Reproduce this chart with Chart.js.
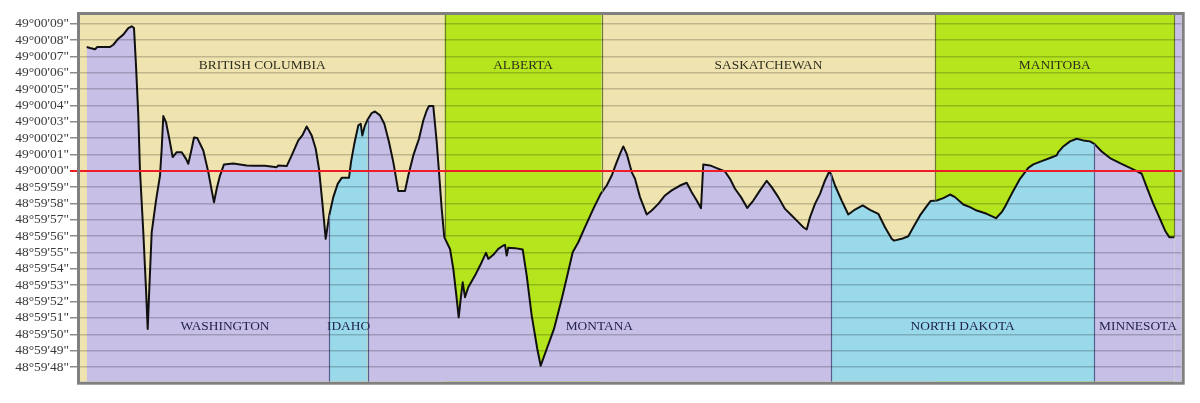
<!DOCTYPE html>
<html>
<head>
<meta charset="utf-8">
<script src="https://cdn.jsdelivr.net/npm/chart.js@4.4.1/dist/chart.umd.min.js"></script>
<style>
  html, body { margin: 0; padding: 0; background: #fff; }
  #wrap { width: 1200px; height: 403px; position: relative; }
</style>
</head>
<body>
<div id="wrap"><canvas id="chart"></canvas></div>
<script>
// distance along the 49th parallel boundary, west -> east (arbitrary units)
const distance = [
  6.7, 10, 15, 17.3, 30, 33.3, 38.3, 43.3, 48.3, 51.7, 54, 56, 58.3, 60, 63.3, 66, 67.7, 69.3, 71.7, 76,
  80, 81.7, 83.3, 86, 89.3, 92.7, 96.7, 101.7, 106, 108.3, 111.7, 114, 117.3, 123.3, 128.3, 131.7, 134, 136.7, 140, 144,
  153.3, 166.7, 173.3, 185,
  196.7, 198.3, 206.7, 211.7, 218.3, 222.3, 226.7, 231.7, 235.7, 239, 242.3, 245.7, 249.3, 253.3, 257.7, 261.7, 269, 271, 274.3, 278.3,
  280.7, 282.3, 285, 287.7, 291.7, 295, 300, 304.3, 309, 313.3, 318.3, 325, 328.3, 333.3, 339, 343.3, 346.7, 349, 353.3, 356.7,
  359, 361.7, 364.3, 370,
  373.3, 376, 378.7, 380.7, 382.7, 385, 388.3, 395, 401.7, 406, 408.3, 413.3, 418.3, 423.3, 425, 426.7, 428.3, 435, 442.7, 446.7,
  451.7, 457.3, 460.7, 466.7, 474, 481.7, 487.3, 492.7, 498.3, 505, 513.3, 520.7, 526.7, 531.7, 536.7, 540, 543.3, 546.7, 551.7, 555,
  560, 566.7, 571.7, 578.3, 585, 591.7, 600, 606.7, 611.7, 616.7, 621, 623.3, 630, 636.7, 645, 650, 655, 661, 667.3, 673.3,
  680, 686.7, 691.7, 698.3, 705, 711.7, 718.3, 723.3, 726.7, 730, 735, 740,
  745, 749.3, 751, 755, 761.7, 768.3, 775, 782.7, 790, 798.3, 805, 811.7, 814, 821.7, 828.3, 833.3, 840, 846, 850.7, 856.7,
  863.3, 870, 875, 883.3, 890, 896.7, 906.7, 916, 921.7, 925,
  931.7, 940, 948.3, 953.3, 961.7, 970, 976.7, 978.3, 983.3, 990, 996.7, 1003.3, 1010, 1014.3, 1021.7, 1030, 1040, 1050, 1056.7, 1061.7,
  1066.7, 1073.3, 1080, 1085, 1089.3, 1094.3
];
// latitude of the surveyed line, in seconds north (+) / south (-) of 49°00'00"
const latSeconds = [
  7.57, 7.51, 7.43, 7.57, 7.57, 7.71, 8.08, 8.33, 8.73, 8.84, 8.73, 6.45, 3.39, 0, -3.76, -7.22, -9.67, -7.22, -3.76, -1.82,
  -0.29, 1.35, 3.35, 2.98, 1.96, 0.84, 1.14, 1.14, 0.73, 0.43, 1.35, 2.04, 2.0, 1.24, -0.08, -1.2, -1.92, -1.1, -0.29, 0.39,
  0.45, 0.33, 0.31, 0.31,
  0.22, 0.33, 0.29, 0.94, 1.86, 2.16, 2.71, 2.16, 1.35, 0.12, -1.92, -4.16, -2.7, -1.61, -0.8, -0.43, -0.43, 0.53, 1.65, 2.78,
  2.88, 2.16, 2.78, 3.14, 3.53, 3.63, 3.39, 2.88, 1.76, 0.53, -1.24, -1.24, -0.29, 0.94, 1.96, 3.08, 3.69, 3.96, 3.96, 1.76,
  -0.08, -2.33, -4.06, -4.78,
  -6.0, -7.43, -8.96, -7.84, -6.82, -7.73, -7.12, -6.41, -5.59, -5.02, -5.39, -5.14, -4.78, -4.57, -4.53, -5.18, -4.71, -4.73, -4.82, -6.41,
  -8.86, -10.9, -11.92, -10.9, -9.67, -7.84, -6.41, -4.98, -4.37, -3.45, -2.33, -1.41, -0.9, -0.29, 0.53, 1.04, 1.49, 1.04, -0.08, -0.49,
  -1.61, -2.67, -2.43, -2.02, -1.51, -1.2, -0.9, -0.73, -1.31, -1.82, -2.29, 0.39, 0.33, 0.16, -0.04, -0.49, -1.1, -1.61, -2.27, -1.82,
  -1.2, -0.61, -1.0, -1.61, -2.33, -2.73, -3.14, -3.45, -3.59, -2.84, -2.02, -1.41,
  -0.59, -0.04, -0.2, -0.9, -1.82, -2.67, -2.37, -2.12, -2.39, -2.63, -3.45, -4.16, -4.27, -4.16, -4.0, -3.45, -2.73, -2.22, -1.84, -1.82,
  -1.67, -1.45, -1.61, -2.06, -2.22, -2.43, -2.63, -2.9, -2.53, -2.2,
  -1.41, -0.49, 0.18, 0.39, 0.59, 0.78, 0.94, 1.14, 1.49, 1.8, 1.96, 1.86, 1.8, 1.65, 1.18, 0.78, 0.47, 0.18, -0.02, -0.18,
  -1.0, -2.02, -2.94, -3.65, -4.06, -4.06
];

const provinceNames = ['BRITISH COLUMBIA', 'ALBERTA', 'SASKATCHEWAN', 'MANITOBA'];
const provinceEdges = [0, 364.5, 521.7, 855.3, 1094.3];
const stateNames = ['WASHINGTON', 'IDAHO', 'MONTANA', 'NORTH DAKOTA', 'MINNESOTA'];
const stateEdges = [6.7, 249.3, 287.7, 751, 1014.3, 1101.7];

const tickLabels = [
  '49°00\'09"', '49°00\'08"', '49°00\'07"', '49°00\'06"', '49°00\'05"', '49°00\'04"',
  '49°00\'03"', '49°00\'02"', '49°00\'01"', '49°00\'00"',
  '48°59\'59"', '48°59\'58"', '48°59\'57"', '48°59\'56"', '48°59\'55"', '48°59\'54"',
  '48°59\'53"', '48°59\'52"', '48°59\'51"', '48°59\'50"', '48°59\'49"', '48°59\'48"'
];

const canadaColors = ['#efe4b0', '#b5e61d', '#efe4b0', '#b5e61d'];
const usColors = ['#c8bfe7', '#99d9ea', '#c8bfe7', '#99d9ea', '#c8bfe7'];
const RED = '#ee1c24';

const profile = distance.map((x, i) => ({ x: x, y: latSeconds[i] }));

function latAt(x) {
  for (let i = 0; i < distance.length - 1; i++) {
    if (x >= distance[i] && x <= distance[i + 1]) {
      const t = (x - distance[i]) / (distance[i + 1] - distance[i]);
      return latSeconds[i] + t * (latSeconds[i + 1] - latSeconds[i]);
    }
  }
  return latSeconds[latSeconds.length - 1];
}

// one filled area per state, under the line
const stateSets = stateNames.map((name, i) => ({
  label: name,
  data: profile.filter(p => p.x >= stateEdges[i] && p.x <= stateEdges[i + 1]),
  fill: 'start',
  backgroundColor: usColors[i],
  borderWidth: 0,
  pointRadius: 0
}));

const regions = {
  id: 'regions',
  beforeDatasetsDraw(chart) {
    const { ctx, chartArea: a, scales: { x } } = chart;
    ctx.save();
    ctx.beginPath();
    ctx.rect(a.left, a.top, a.width, a.height);
    ctx.clip();
    provinceNames.forEach((n, i) => {
      const x0 = x.getPixelForValue(provinceEdges[i]);
      const x1 = x.getPixelForValue(provinceEdges[i + 1]);
      ctx.fillStyle = canadaColors[i];
      ctx.fillRect(x0, a.top, x1 - x0, a.height);
    });
    // past the last corner the US side runs to the top
    const xe = x.getPixelForValue(provinceEdges[provinceEdges.length - 1]);
    ctx.fillStyle = usColors[usColors.length - 1];
    ctx.fillRect(xe, a.top, a.right - xe, a.height);
    ctx.restore();
  },
  afterDatasetsDraw(chart) {
    const { ctx, chartArea: a, scales: { x, y } } = chart;
    ctx.save();
    ctx.lineWidth = 1.2;
    ctx.strokeStyle = '#6e7a34';
    provinceEdges.slice(1).forEach(e => {
      const px = Math.round(x.getPixelForValue(e)) + 0.5;
      ctx.beginPath();
      ctx.moveTo(px, a.top);
      ctx.lineTo(px, y.getPixelForValue(latAt(e)));
      ctx.stroke();
    });
    ctx.strokeStyle = '#56608c';
    stateEdges.slice(1, -1).forEach(e => {
      const px = Math.round(x.getPixelForValue(e)) + 0.5;
      ctx.beginPath();
      ctx.moveTo(px, a.bottom);
      ctx.lineTo(px, y.getPixelForValue(latAt(e)));
      ctx.stroke();
    });
    ctx.restore();
  },
  afterDraw(chart) {
    const { ctx, chartArea: a, scales: { x, y } } = chart;
    ctx.save();
    ctx.font = '13.4px "Liberation Serif", "Times New Roman", serif';
    ctx.textAlign = 'center';
    ctx.textBaseline = 'middle';
    ctx.fillStyle = '#2e2e1e';
    provinceNames.forEach((n, i) => {
      const cx = (provinceEdges[i] + provinceEdges[i + 1]) / 2;
      ctx.fillText(n, x.getPixelForValue(cx), y.getPixelForValue(6.47));
    });
    ctx.fillStyle = '#21234e';
    const shift = { WASHINGTON: 17 };
    stateNames.forEach((n, i) => {
      const cx = (stateEdges[i] + stateEdges[i + 1]) / 2 + (shift[n] || 0);
      ctx.fillText(n, x.getPixelForValue(cx), y.getPixelForValue(-9.54));
    });
    // frame
    ctx.strokeStyle = '#808080';
    ctx.lineWidth = 3;
    ctx.strokeRect(a.left - 1.5, a.top - 1.5, a.width + 3, a.height + 3);
    ctx.restore();
  }
};

new Chart(document.getElementById('chart'), {
  type: 'line',
  data: {
    datasets: [
      {
        label: 'boundary',
        data: profile,
        fill: false,
        borderColor: '#111',
        borderWidth: 2,
        borderJoinStyle: 'round',
        pointRadius: 0,
        tension: 0
      },
      ...stateSets
    ]
  },
  options: {
    responsive: true,
    maintainAspectRatio: false,
    animation: false,
    parsing: false,
    layout: { padding: { top: 15, right: 18.3, bottom: 21.3, left: 0 } },
    plugins: { legend: { display: false }, tooltip: { enabled: false } },
    scales: {
      x: { type: 'linear', display: false, min: 0, max: 1101.7 },
      y: {
        type: 'linear',
        min: -12.9,
        max: 9.53,
        afterFit(s) { s.width = 80; },
        border: { display: false },
        grid: {
          z: 1,
          color: c => (c.tick && c.tick.value === 0) ? RED : 'rgba(0,0,0,0.2)',
          lineWidth: c => (c.tick && c.tick.value === 0) ? 2 : 1.5,
          tickColor: c => (c.tick && c.tick.value === 0) ? RED : '#8c8c8c',
          tickLength: 10
        },
        ticks: {
          stepSize: 1,
          includeBounds: false,
          autoSkip: false,
          padding: 1,
          color: '#3a3a3a',
          font: { family: '"Liberation Serif", "Times New Roman", serif', size: 13.5 },
          callback: v => tickLabels[9 - Math.round(v)]
        }
      }
    }
  },
  plugins: [regions]
});
</script>
</body>
</html>
